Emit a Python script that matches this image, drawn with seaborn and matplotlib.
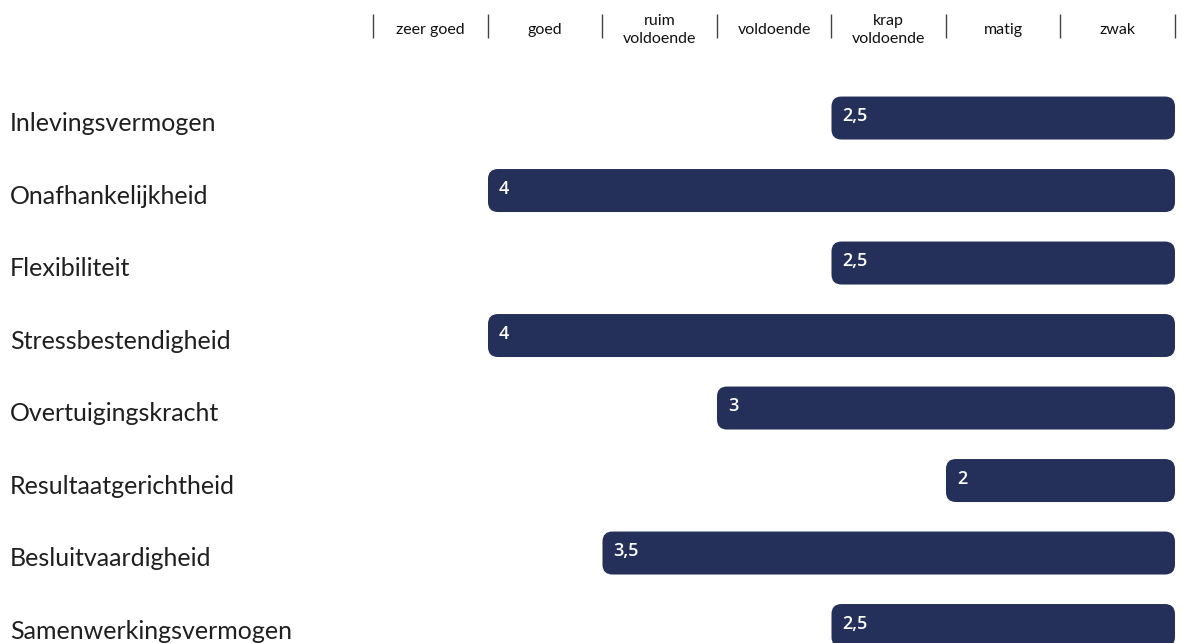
import matplotlib
matplotlib.use("Agg")
import matplotlib.pyplot as plt
import seaborn as sns
import pandas as pd
from matplotlib.patches import FancyBboxPatch
from matplotlib.transforms import IdentityTransform

categories = ["Inlevingsvermogen", "Onafhankelijkheid", "Flexibiliteit", "Stressbestendigheid",
              "Overtuigingskracht", "Resultaatgerichtheid", "Besluitvaardigheid", "Samenwerkingsvermogen"]
scores = [2.5, 4, 2.5, 4, 3, 2, 3.5, 2.5]
score_labels = ["2,5", "4", "2,5", "4", "3", "2", "3,5", "2,5"]
header_labels = ["zeer goed", "goed", "ruim\nvoldoende", "voldoende", "krap\nvoldoende", "matig", "zwak"]
header_bounds = [4.5, 4, 3.5, 3, 2.5, 2, 1.5, 1]
baseline = 1

sns.set_theme(style="white")
plt.rcParams['font.family'] = ['Lato', 'DejaVu Sans']

df = pd.DataFrame({"cat": categories, "len": [s - baseline for s in scores]})

fig = plt.figure(figsize=(11.83, 6.43), dpi=100)
ax = fig.add_axes([0, 0, 1, 1])
color = "#243059"
sns.barplot(data=df, y="cat", x="len", orient="h", color=color, width=0.593,
            saturation=1, ax=ax)

ax.set_xlim(5.131, -0.035)
ax.set_ylim(7.241, -1.628)
ax.set_autoscale_on(False)
ax.set_axis_off()
fig.canvas.draw()

# replace bars with rounded boxes in pixel space
patches = list(ax.patches)
for p in patches:
    x0, y0 = p.get_x(), p.get_y()
    w, h = p.get_width(), p.get_height()
    (px0, py0) = ax.transData.transform((x0, y0))
    (px1, py1) = ax.transData.transform((x0 + w, y0 + h))
    p.remove()
    fb = FancyBboxPatch((min(px0, px1), min(py0, py1)), abs(px1 - px0), abs(py1 - py0),
                        boxstyle="round,pad=0,rounding_size=10",
                        facecolor=color, edgecolor="none", transform=IdentityTransform(),
                        zorder=1)
    ax.add_artist(fb)

for i, (s, lab) in enumerate(zip(scores, score_labels)):
    ax.annotate(lab, xy=(s - baseline, i), xytext=(11, 2), textcoords="offset pixels",
                color="white", fontsize=13, fontweight="semibold", va="center", ha="left",
                family=["Open Sans", "DejaVu Sans"], zorder=5)
    ax.annotate(categories[i], xy=(0, i), xycoords=("axes fraction", "data"),
                xytext=(10, -13), textcoords="offset pixels", fontsize=18,
                color="#1f1f1f", va="baseline", ha="left")

for b in header_bounds:
    ax.vlines(b - baseline, -1.434, -1.103, color="#444444", lw=1.0)
for k, lab in enumerate(header_labels):
    mid = (header_bounds[k] + header_bounds[k + 1]) / 2 - baseline
    ax.text(mid, -1.215, lab, ha="center", va="center", fontsize=11.5,
            color="#111111", linespacing=1.4)

fig.savefig("out.png", dpi=100)
